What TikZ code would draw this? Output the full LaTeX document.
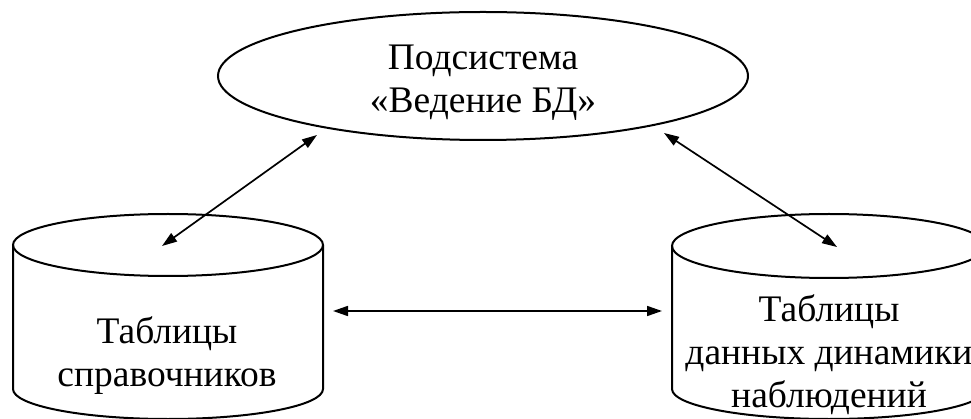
\documentclass[tikz,border=0pt]{standalone}
\usepackage{fontspec}
\setmainfont{Liberation Serif}
\usetikzlibrary{arrows.meta,shapes.geometric}
\begin{document}
\begin{tikzpicture}[x=1pt,y=-1pt,
  outline/.style={line width=2pt},
  conn/.style={line width=1.7pt,{Triangle[length=15pt,width=10pt]}-{Triangle[length=15pt,width=10pt]}},
  lbl/.style={align=center,font=\fontsize{37.5}{43}\selectfont,inner sep=0pt}]
\useasboundingbox (0,0) rectangle (971,419);
\clip (0,0) rectangle (971,419);
% top ellipse
\node[ellipse,draw,outline,minimum width=530pt,minimum height=128pt,inner sep=0pt] (sub) at (483,76) {};
\node[lbl] (subtext) at (483,82.5) {Подсистема\\«Ведение БД»};
% left cylinder
\draw[outline] (168,245) ellipse [x radius=155, y radius=31];
\draw[outline] (13,245) -- (13,389) arc[start angle=180,end angle=0,x radius=155,y radius=30] -- (323,245);
\node[lbl] (ref) at (167,355.5) {Таблицы\\справочников};
% right cylinder
\draw[outline] (829,246) ellipse [x radius=157, y radius=32];
\draw[outline] (672,246) -- (672,389) arc[start angle=180,end angle=0,x radius=157,y radius=30] -- (986,246);
\node[lbl] (dyn) at (829,355) {Таблицы\\данных динамики\\наблюдений};
% connector end points
\coordinate (l1) at (162,246);
\coordinate (l2) at (317,135);
\coordinate (r1) at (664,133);
\coordinate (r2) at (837,247);
\coordinate (h1) at (333,311);
\coordinate (h2) at (662,311);
\draw[conn] (l1) -- (l2);
\draw[conn] (r1) -- (r2);
\draw[conn] (h1) -- (h2);
\end{tikzpicture}
\end{document}
